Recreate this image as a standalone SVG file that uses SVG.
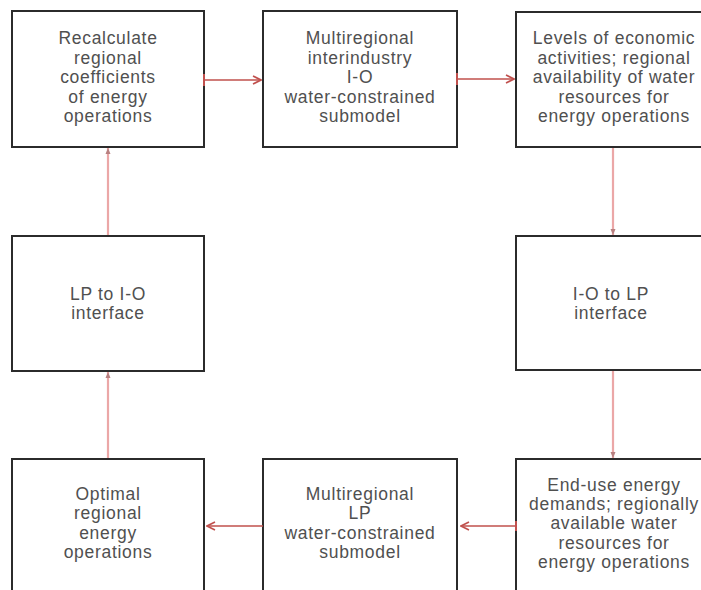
<svg xmlns="http://www.w3.org/2000/svg" width="701" height="590" viewBox="0 0 701 590">
  <style>
    .box { fill: #ffffff; stroke: #2b2b2b; stroke-width: 2; }
    .lbl { font-family: "Liberation Sans", Arial, sans-serif; font-size: 17.5px; letter-spacing: 0.7px; fill: #505050; text-anchor: middle; }
    .h { stroke: #c0504d; stroke-width: 1.6; fill: none; }
    .v { stroke: #eba7a7; stroke-width: 2.2; fill: none; }
    .tick { stroke: #c0504d; stroke-width: 2; }
  </style>
  <defs>
    <marker id="ah" markerWidth="10" markerHeight="10" refX="9" refY="5" orient="auto" markerUnits="userSpaceOnUse">
      <path d="M1,1 L9,5 L1,9" fill="none" stroke="#c0504d" stroke-width="1.6"/>
    </marker>
    <marker id="av" markerWidth="8" markerHeight="8" refX="7" refY="4" orient="auto" markerUnits="userSpaceOnUse">
      <path d="M1,1.5 L7,4 L1,6.5 Z" fill="#b88080" stroke="none"/>
    </marker>
  </defs>
  <rect width="701" height="590" fill="#ffffff"/>

  <g id="n1">
    <rect class="box" x="12" y="11" width="192" height="136"/>
    <text class="lbl" x="108" y="44">Recalculate</text>
    <text class="lbl" x="108" y="64">regional</text>
    <text class="lbl" x="108" y="83">coefficients</text>
    <text class="lbl" x="108" y="103">of energy</text>
    <text class="lbl" x="108" y="122">operations</text>
  </g>
  <g id="n2">
    <rect class="box" x="263" y="11" width="194" height="136"/>
    <text class="lbl" x="360" y="44">Multiregional</text>
    <text class="lbl" x="360" y="64">interindustry</text>
    <text class="lbl" x="360" y="83">I-O</text>
    <text class="lbl" x="360" y="103">water-constrained</text>
    <text class="lbl" x="360" y="122">submodel</text>
  </g>
  <g id="n3">
    <rect class="box" x="516" y="12" width="200" height="135"/>
    <text class="lbl" x="614" y="44">Levels of economic</text>
    <text class="lbl" x="614" y="64">activities; regional</text>
    <text class="lbl" x="614" y="83">availability of water</text>
    <text class="lbl" x="614" y="103">resources for</text>
    <text class="lbl" x="614" y="122">energy operations</text>
  </g>
  <g id="n4">
    <rect class="box" x="12" y="236" width="192" height="135"/>
    <text class="lbl" x="108" y="300">LP to I-O</text>
    <text class="lbl" x="108" y="319">interface</text>
  </g>
  <g id="n5">
    <rect class="box" x="516" y="236" width="200" height="134"/>
    <text class="lbl" x="611" y="300">I-O to LP</text>
    <text class="lbl" x="611" y="319">interface</text>
  </g>
  <g id="n6">
    <rect class="box" x="12" y="459" width="192" height="140"/>
    <text class="lbl" x="108" y="500">Optimal</text>
    <text class="lbl" x="108" y="519">regional</text>
    <text class="lbl" x="108" y="539">energy</text>
    <text class="lbl" x="108" y="558">operations</text>
  </g>
  <g id="n7">
    <rect class="box" x="263" y="459" width="194" height="140"/>
    <text class="lbl" x="360" y="500">Multiregional</text>
    <text class="lbl" x="360" y="519">LP</text>
    <text class="lbl" x="360" y="539">water-constrained</text>
    <text class="lbl" x="360" y="558">submodel</text>
  </g>
  <g id="n8">
    <rect class="box" x="516" y="459" width="200" height="140"/>
    <text class="lbl" x="614" y="491">End-use energy</text>
    <text class="lbl" x="614" y="510">demands; regionally</text>
    <text class="lbl" x="614" y="529">available water</text>
    <text class="lbl" x="614" y="549">resources for</text>
    <text class="lbl" x="614" y="568">energy operations</text>
  </g>

  <g id="connectors">
    <line class="h" x1="204" y1="80" x2="261" y2="80" marker-end="url(#ah)"/>
    <line class="tick" x1="204" y1="74" x2="204" y2="86"/>
    <line class="h" x1="457" y1="79" x2="514" y2="79" marker-end="url(#ah)"/>
    <line class="tick" x1="457" y1="73" x2="457" y2="85"/>
    <line class="v" x1="613" y1="148" x2="613" y2="235" marker-end="url(#av)"/>
    <line class="v" x1="613" y1="371" x2="613" y2="458" marker-end="url(#av)"/>
    <line class="h" x1="516" y1="526" x2="461" y2="526" marker-end="url(#ah)"/>
    <line class="tick" x1="516" y1="521" x2="516" y2="531"/>
    <line class="h" x1="263" y1="526" x2="207" y2="526" marker-end="url(#ah)"/>
    <line class="v" x1="108" y1="458" x2="108" y2="372" marker-end="url(#av)"/>
    <line class="v" x1="108" y1="235" x2="108" y2="148" marker-end="url(#av)"/>
  </g>
</svg>
